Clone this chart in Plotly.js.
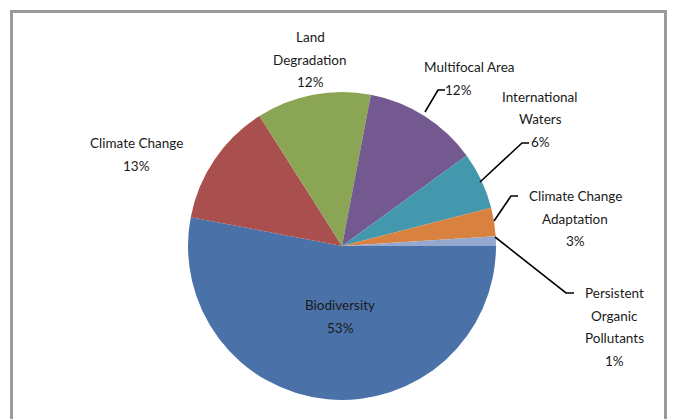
<!DOCTYPE html>
<html>
<head>
<meta charset="utf-8">
<script src="https://cdn.plot.ly/plotly-3.0.1.min.js"></script>
<style>html,body{margin:0;padding:0;background:#fff;}#chart{width:674px;height:419px;}</style>
</head>
<body>
<div id="chart"></div>
<script>
// ---- data ----
const categories = ["Biodiversity", "Climate Change", "Land Degradation", "Multifocal Area",
  "International Waters", "Climate Change Adaptation", "Persistent Organic Pollutants"];
const labelLines = ["Biodiversity", "Climate Change", "Land|Degradation", "Multifocal Area",
  "International|Waters", "Climate Change|Adaptation", "Persistent|Organic|Pollutants"];
const shares = [53, 13, 12, 12, 6, 3, 1];
const sliceColors = ["#4A72A8", "#A94F4D", "#8AA553", "#73598F", "#4498AE", "#D9813E", "#95A9CF"];

// ---- layout helpers (pixel -> paper) ----
const W = 674, H = 419;
const px = x => x / W;
const py = y => 1 - y / H;
const cx = 342, cy = 246, r = 154;
const lineGap = 22.5;

const pct = i => shares[i] + "%";
const font = {family: "Lato, 'Open Sans', sans-serif", size: 13.5, color: "#1a1a1a"};

// label block positions (pixels): [center x, y of first line]
const labelPos = [
  [340, 305],
  [136, 143],
  [310, 37],
  null,
  [540, 97],
  [575, 196],
  [614, 293]
];

const annotations = [];
function addText(x, y, t) {
  annotations.push({xref: "paper", yref: "paper", x: px(x), y: py(y),
    xanchor: "center", yanchor: "middle", text: t, showarrow: false, font: font});
}
labelPos.forEach((p, i) => {
  if (!p) return;
  const lines = labelLines[i].split("|").concat([pct(i)]);
  lines.forEach((t, k) => addText(p[0], p[1] + k * lineGap, t));
});
// Multifocal Area: name and percentage placed separately
addText(469, 67, labelLines[3]);
addText(458, 90, pct(3));

const lineStyle = {color: "#000", width: 1.6};
const toPath = pts => pts.map((p, k) => (k ? "L" : "M") + px(p[0]) + "," + py(p[1])).join(" ");
const leaders = [
  [[445, 90], [438, 90], [425, 112]],
  [[529, 143], [522, 143], [480, 182]],
  [[518, 196], [511, 196], [494, 221]],
  [[495, 237], [566, 293], [574, 293]]
];
const shapes = leaders.map(pts => ({type: "path", xref: "paper", yref: "paper", path: toPath(pts), line: lineStyle}));
shapes.push({type: "rect", xref: "paper", yref: "paper", x0: px(11.5), x1: px(665.5), y0: py(11.5), y1: py(440),
  line: {color: "#9a9a9a", width: 3}, fillcolor: "rgba(0,0,0,0)"});

const trace = {
  type: "pie",
  labels: categories,
  values: shares,
  sort: false,
  direction: "clockwise",
  rotation: 90,
  textinfo: "none",
  hoverinfo: "label+percent",
  marker: {colors: sliceColors, line: {width: 0}},
  domain: {x: [px(cx - r), px(cx + r)], y: [py(cy + r), py(cy - r)]},
  showlegend: false
};

const layout = {
  width: W, height: H,
  margin: {l: 0, r: 0, t: 0, b: 0},
  paper_bgcolor: "#fff",
  showlegend: false,
  annotations: annotations,
  shapes: shapes
};

Plotly.newPlot("chart", [trace], layout, {displayModeBar: false, staticPlot: true});
</script>
</body>
</html>
